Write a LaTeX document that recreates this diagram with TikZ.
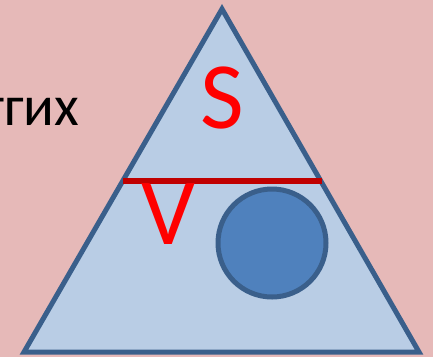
\documentclass[tikz,border=0pt]{standalone}
\usepackage{fontspec}
\setmainfont{Carlito}
\usetikzlibrary{positioning}
\definecolor{slidepink}{HTML}{E6B9B8}
\definecolor{trifill}{HTML}{B9CDE5}
\definecolor{triedge}{HTML}{3A5F8B}
\definecolor{ballfill}{HTML}{4F81BD}
\definecolor{cutred}{HTML}{C00000}
\definecolor{letterred}{HTML}{FF0000}

\begin{document}
\begin{tikzpicture}[
        x=1pt, y=-1pt,
        tri/.style={draw=triedge, fill=trifill, line width=5pt, line join=miter},
        ball/.style={circle, draw=triedge, fill=ballfill, line width=5pt,
                     minimum size=108pt, inner sep=0pt},
        bigletter/.style={text=letterred, font=\fontsize{95}{95}\selectfont,
                          inner sep=0pt, anchor=base},
        cut/.style={cutred, line width=5.5pt},
      ]
        \useasboundingbox (0,0) rectangle (433,357);
        \clip (0,0) rectangle (433,357);
        \fill[slidepink] (0,0) rectangle (433,357);
        % triangle corners
        \coordinate (top) at (222,9);
        \coordinate (bl) at (24,352);
        \coordinate (br) at (419,352);
        \draw[tri] (top) -- (bl) -- (br) -- cycle;
        % cut across the triangle
        \coordinate (cutl) at (123,181);
        \coordinate (cutr) at (322,181);
        \draw[cut] (cutl) -- (cutr);
        \node[ball] (disc) at (272,243) {};
        \node[bigletter] (area) at (222,128) {S};
        \node[bigletter] (vol) at (168,244) {V};
        \node[anchor=base west, inner sep=0pt,
              font=\fontsize{57}{57}\selectfont] (word) at (-18,125) {тгих};
      \end{tikzpicture}
\end{document}
